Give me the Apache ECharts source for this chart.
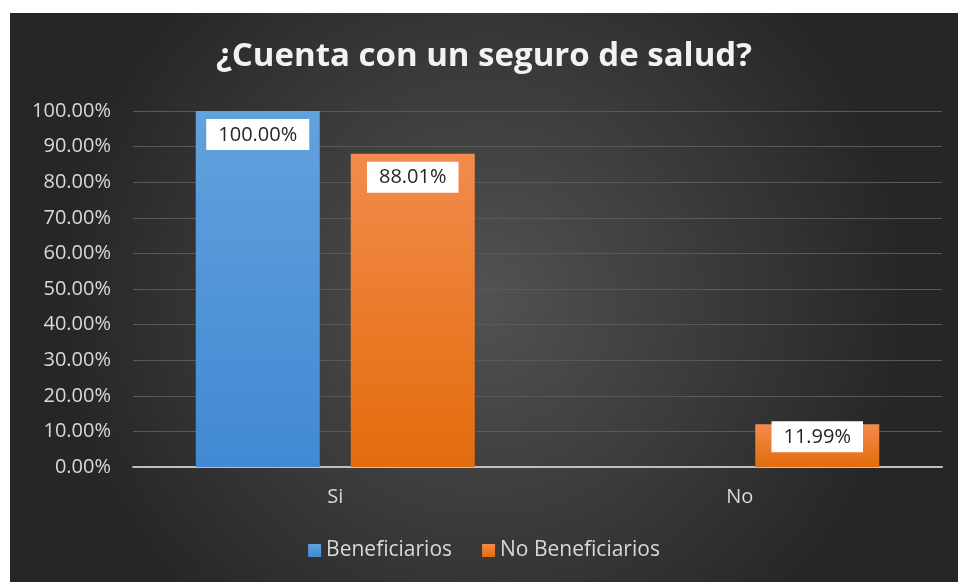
<!DOCTYPE html>
<html>
<head>
<meta charset="utf-8">
<script src="https://cdn.jsdelivr.net/npm/echarts@6/dist/echarts.min.js"></script>
<style>
  html, body { margin: 0; padding: 0; background: #fff; }
  #chart { position: absolute; left: 10px; top: 13px; width: 948px; height: 569px; }
</style>
</head>
<body>
<div id="chart"></div>
<script>
const categories = ["Si", "No"];
const beneficiarios = [100.0, 0];
const noBeneficiarios = [88.01, 11.99];
const seriesNames = ["Beneficiarios", "No Beneficiarios"];

const chart = echarts.init(document.getElementById("chart"));

const labelBox = {
  show: true,
  position: "insideTop",
  distance: 8,
  backgroundColor: "#ffffff",
  color: "#262626",
  fontFamily: "Open Sans",
  fontSize: 20,
  padding: [6, 12, 5, 12],
  formatter: (p) => p.value.toFixed(2) + "%",
};

const option = {
  backgroundColor: {
    type: "radial",
    x: 0.5,
    y: 0.5,
    r: 0.75,
    colorStops: [
      { offset: 0, color: "#525252" },
      { offset: 1, color: "#262626" },
    ],
  },
  title: {
    text: "¿Cuenta con un seguro de salud?",
    left: "center",
    top: 22,
    textStyle: {
      color: "#f2f2f2",
      fontFamily: "Open Sans",
      fontWeight: "bold",
      fontSize: 33,
    },
  },
  legend: {
    bottom: 16,
    left: "center",
    icon: "rect",
    itemWidth: 13,
    itemHeight: 13,
    itemGap: 30,
    textStyle: { color: "#d9d9d9", fontFamily: "Open Sans", fontSize: 21 },
    data: seriesNames,
  },
  grid: { left: 123, right: 16, top: 98, bottom: 115 },
  xAxis: {
    type: "category",
    data: categories,
    axisLine: { lineStyle: { color: "#bfbfbf", width: 2 } },
    axisTick: { show: false },
    axisLabel: { color: "#d9d9d9", fontFamily: "Open Sans", fontSize: 20, margin: 20 },
  },
  yAxis: {
    type: "value",
    min: 0,
    max: 100,
    interval: 10,
    axisLine: { show: false },
    axisTick: { show: false },
    axisLabel: {
      color: "#d9d9d9",
      fontFamily: "Open Sans",
      fontSize: 20,
      margin: 22,
      formatter: (v) => v.toFixed(2) + "%",
    },
    splitLine: { lineStyle: { color: "#595959", width: 1 } },
  },
  series: [
    {
      name: seriesNames[0],
      type: "bar",
      barWidth: 124,
      barGap: "25%",
      itemStyle: {
        color: new echarts.graphic.LinearGradient(0, 0, 0, 1, [
          { offset: 0, color: "#62a2dd" },
          { offset: 1, color: "#4189d3" },
        ]),
      },
      label: labelBox,
      data: beneficiarios.map((v) => ({
        value: v,
        label: { show: v > 0 },
      })),
    },
    {
      name: seriesNames[1],
      type: "bar",
      barWidth: 124,
      barGap: "25%",
      itemStyle: {
        color: new echarts.graphic.LinearGradient(0, 0, 0, 1, [
          { offset: 0, color: "#f28b4c" },
          { offset: 1, color: "#e36c0c" },
        ]),
      },
      label: labelBox,
      data: noBeneficiarios.map((v) => ({
        value: v,
        label: v < 20 ? { distance: -3 } : {},
      })),
    },
  ],
};

chart.setOption(option);
</script>
</body>
</html>
